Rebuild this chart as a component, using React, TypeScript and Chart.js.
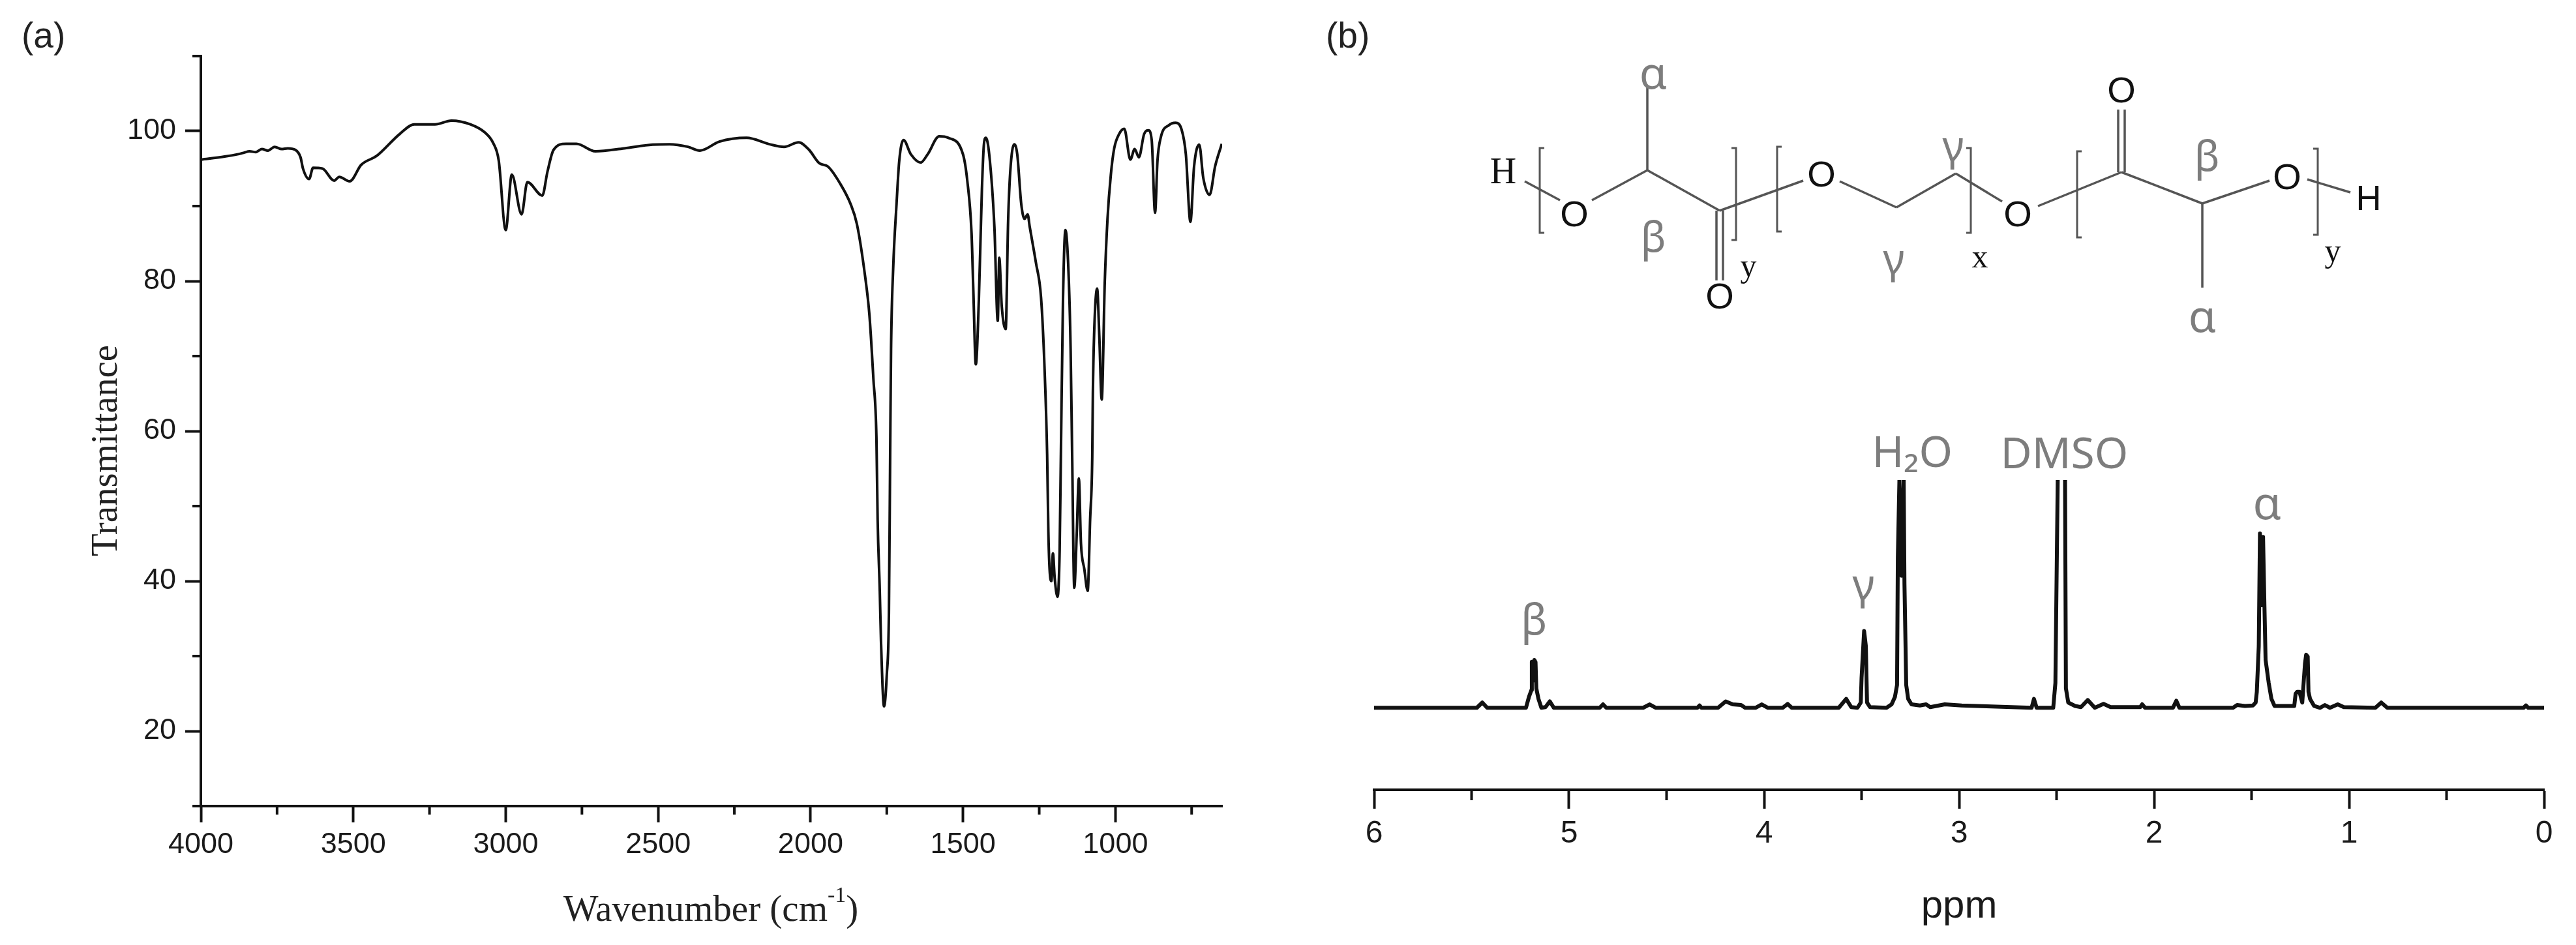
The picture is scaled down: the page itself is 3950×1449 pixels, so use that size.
import React, { useEffect, useRef } from "react";
import { Chart, registerables } from "chart.js";

Chart.register(...registerables);

const irWavenumber = [4000,3922,3880,3860,3840,3820,3800,3780,3758,3735,3715,3690,3673,3665,3645,3632,3601,3563,3546,3512,3474,3423,3348,3300,3232,3178,3116,3068,3041,3023,3000,2980,2948,2929,2880,2863,2843,2802,2768,2706,2611,2518,2463,2402,2363,2299,2210,2135,2087,2039,2005,1971,1944,1903,1869,1848,1821,1807,1794,1784,1780,1773,1769,1759,1750,1743,1739,1736,1729,1718,1709,1695,1671,1639,1616,1578,1548,1500,1486,1472,1466,1458,1448,1438,1431,1425,1414,1397,1386,1381,1373,1360,1352,1345,1332,1322,1309,1298,1288,1281,1261,1244,1233,1224,1220,1216,1210,1205,1199,1190,1183,1179,1172,1164,1154,1147,1142,1135,1127,1120,1113,1102,1091,1083,1076,1074,1070,1060,1053,1045,1035,1026,1015,1004,988,971,951,937,923,906,892,881,870,862,851,824,803,783,769,754,742,725,712,691,673,651];
const irTransmittance = [96.2,96.6,96.9,97.1,97.3,97.2,97.6,97.4,97.9,97.6,97.7,97.5,96.5,95.0,93.6,95.1,95.0,93.4,93.9,93.3,95.5,96.7,99.6,100.9,100.9,101.4,100.9,99.8,98.4,96.1,86.8,94.2,88.9,93.2,91.4,94.6,97.5,98.3,98.3,97.3,97.7,98.2,98.25,97.9,97.4,98.6,99.1,98.25,97.9,98.5,97.5,95.7,95.3,93,90.3,87.6,80.6,75.5,67,59.2,48.2,38.7,32,23.3,27.5,35.8,56.6,70.9,81.7,90.3,96.1,98.8,96.9,95.8,96.9,99.3,99.1,96.9,93.4,86.4,78.6,68.9,77.5,92.2,98.4,99.1,96.9,87.2,74.7,83.1,76.7,73.6,88,94.6,98.25,96.9,90.3,88.3,88.9,87.2,82.5,77.8,68.9,56.9,46.6,41.6,40,43.7,40.3,37.9,44.1,56.6,77.5,86.8,81.3,70.9,56.9,39.1,46.2,53.7,45,41.6,38.7,48.2,56.6,65,72.8,79,72.8,64.2,79.8,88.3,94.2,97.7,99.6,100.3,96.2,97.6,96.5,99.6,100.1,98.8,89.1,96.1,99.2,100.8,101.1,100.2,96.9,87.9,95.3,98.2,93.8,91.5,95.3,98.3];

const nmrPpm = [6,5.473,5.445,5.42,5.221,5.206,5.193,5.191,5.185,5.178,5.172,5.168,5.157,5.142,5.121,5.099,5.078,4.843,4.826,4.809,4.62,4.587,4.555,4.342,4.331,4.321,4.236,4.197,4.161,4.118,4.097,4.044,4.012,3.98,3.905,3.879,3.858,3.617,3.579,3.553,3.521,3.504,3.5,3.487,3.478,3.472,3.457,3.372,3.346,3.329,3.318,3.314,3.306,3.295,3.284,3.28,3.271,3.261,3.244,3.201,3.169,3.148,3.073,2.987,2.628,2.616,2.602,2.517,2.506,2.49,2.458,2.452,2.44,2.405,2.375,2.34,2.304,2.259,2.223,2.071,2.061,2.046,1.903,1.886,1.87,1.595,1.574,1.534,1.493,1.479,1.473,1.463,1.457,1.449,1.441,1.434,1.428,1.412,1.398,1.382,1.281,1.274,1.266,1.254,1.24,1.226,1.22,1.212,1.208,1.2,1.179,1.149,1.124,1.098,1.058,1.027,0.865,0.835,0.804,0.105,0.093,0.081,0];
const nmrIntensity = [0,0,2.3,0,0,4.7,7.8,20.2,12,21,20,8.5,3.9,0,0.3,2.8,0,0,1.5,0,0,1.5,0,0,1,0,0,2.8,1.5,1.2,0,0,1.5,0,0,1.7,0,0,3.9,0.3,0,2.3,13.2,33.7,27,2.3,0.3,0,1.5,4.7,10,66,99.8,58,99.8,54.3,10,3.9,1.5,1,1.5,0.3,1.5,1,0,3.9,0,0,10.9,130,130,8.5,2.3,0.8,0.3,3.4,0,1.7,0.3,0.3,1.5,0,0,3.1,0,0,1.2,0.8,1,2.3,7,27,76.5,45,75,45,21,10.9,3.9,0.8,0.8,6.2,7,7,2.3,19.4,23.3,22.5,7,3.9,0.8,0,1.2,0,1.5,0.3,0,2.3,0,0,1,0,0];

const irXLabels = [4000,3500,3000,2500,2000,1500,1000];
const irXMinor = [3750,3250,2750,2250,1750,1250,750];
const irYLabels = [20,40,60,80,100];
const irYMinor = [10,30,50,70,90,110];
const nmrXLabels = [6,5,4,3,2,1,0];
const nmrXMinor = [5.5,4.5,3.5,2.5,1.5,0.5];

const peakLabelText = ["β","γ","H₂O","DMSO","α"];
const peakLabelPpm = [5.18,3.49,3.24,2.46,1.42];
const peakLabelIntensity = [37.5,53,111,110.5,88.5];

const INK = "#111111";
const GREY = "#7d7d7d";

const plainTick = (v: number | string) => String(v);

const minorTicks = {
  id: "minorTicks",
  afterDraw(chart: any, _a: any, opts: any) {
    const { ctx, scales } = chart;
    ctx.save();
    ctx.strokeStyle = INK;
    ctx.lineWidth = 4;
    ctx.beginPath();
    const xs = scales.x;
    (opts.x || []).forEach((v: number) => {
      const p = xs.getPixelForValue(v);
      ctx.moveTo(p, xs.top);
      ctx.lineTo(p, xs.top + opts.xLength);
    });
    const ys = scales.y;
    (opts.y || []).forEach((v: number) => {
      const p = ys.getPixelForValue(v);
      ctx.moveTo(ys.right, p);
      ctx.lineTo(ys.right - opts.yLength, p);
    });
    ctx.stroke();
    ctx.restore();
  },
};

const peakLabels = {
  id: "peakLabels",
  afterDraw(chart: any) {
    const { ctx, scales } = chart;
    ctx.save();
    ctx.fillStyle = GREY;
    ctx.textAlign = "center";
    ctx.textBaseline = "middle";
    peakLabelText.forEach((t, i) => {
      ctx.font = `${t === "α" ? 70 : 66}px "Noto Sans"`;
      ctx.fillText(t, scales.x.getPixelForValue(peakLabelPpm[i]), scales.y.getPixelForValue(peakLabelIntensity[i]));
    });
    ctx.restore();
  },
};

const setTicks = (vals: number[]) => (s: any) => {
  s.ticks = vals.map((value) => ({ value }));
};

function makeIr(canvas: HTMLCanvasElement) {
  return new Chart(canvas, {
    type: "line",
    data: {
      datasets: [{
        data: irWavenumber.map((x, i) => ({ x, y: irTransmittance[i] })),
        borderColor: INK,
        borderWidth: 4,
        pointRadius: 0,
        cubicInterpolationMode: "monotone",
      }],
    },
    plugins: [minorTicks],
    options: {
      animation: false,
      responsive: false,
      layout: { padding: { left: 180, right: 101, top: 86, bottom: 0 }, autoPadding: false },
      plugins: {
        legend: { display: false },
        tooltip: { enabled: false },
        minorTicks: { x: irXMinor, y: irYMinor, xLength: 13, yLength: 13 },
      } as any,
      scales: {
        x: {
          type: "linear", reverse: true, min: 650, max: 4000,
          afterBuildTicks: setTicks(irXLabels),
          afterFit: (s: any) => { s.height = 1449 - 1236; },
          border: { color: INK, width: 4 },
          grid: { drawOnChartArea: false, tickLength: 25, tickWidth: 4, tickColor: INK },
          ticks: { color: "#1a1a1a", font: { family: "Liberation Sans", size: 45 }, maxRotation: 0, padding: 8, autoSkip: false, callback: plainTick },
        },
        y: {
          min: 10, max: 110,
          afterBuildTicks: setTicks(irYLabels),
          afterFit: (s: any) => { s.width = 308 - 180; },
          border: { color: INK, width: 4 },
          grid: { drawOnChartArea: false, tickLength: 24, tickWidth: 4, tickColor: INK },
          ticks: { color: "#1a1a1a", font: { family: "Liberation Sans", size: 45 }, padding: 14, callback: plainTick },
        },
      },
    } as any,
  });
}

function makeNmr(canvas: HTMLCanvasElement) {
  return new Chart(canvas, {
    type: "line",
    data: {
      datasets: [{
        data: nmrPpm.map((x, i) => ({ x, y: nmrIntensity[i] })),
        borderColor: INK,
        borderWidth: 6,
        pointRadius: 0,
        borderJoinStyle: "round",
        clip: 0,
      }],
    },
    plugins: [minorTicks, peakLabels],
    options: {
      animation: false,
      responsive: false,
      layout: { padding: { left: 132, right: 49, top: 736, bottom: 0 }, autoPadding: false },
      plugins: {
        legend: { display: false },
        tooltip: { enabled: false },
        minorTicks: { x: nmrXMinor, y: [], xLength: 16, yLength: 0 },
      } as any,
      scales: {
        x: {
          type: "linear", reverse: true, min: 0, max: 6,
          afterBuildTicks: setTicks(nmrXLabels),
          afterFit: (s: any) => { s.height = 1449 - 1211; },
          border: { color: INK, width: 4 },
          grid: { drawOnChartArea: false, tickLength: 29, tickWidth: 4, tickColor: INK },
          ticks: { color: "#1a1a1a", font: { family: "Liberation Sans", size: 48 }, padding: 10, maxRotation: 0, autoSkip: false, callback: plainTick },
          title: {
            display: true, text: "ppm", color: "#1a1a1a",
            font: { family: "Liberation Sans", size: 60 },
            padding: { top: 0, bottom: 23 },
          },
        },
        y: { display: false, min: -36, max: 100 },
      },
    } as any,
  });
}

const bonds = [
  [2338,278,2392,307],[2441,307,2526,261],[2526,261,2526,132],[2526,261,2637,323],
  [2632,323,2632,430],[2642,323,2642,430],[2637,323,2765,277],[2821,278,2908,318],
  [2908,318,2999,266],[2999,266,3070,309],[3125,316,3253,264],[3248,264,3248,168],
  [3258,264,3258,168],[3253,264,3377,312],[3377,312,3377,441],[3377,312,3480,277],[3538,275,3604,295],
];
const brackets = [
  [2361,227,357,1],[2662,227,368,-1],[2725,225,355,1],[3022,227,357,-1],[3185,232,364,1],[3554,228,360,-1],
];
const atoms = [[2414,327],[2637,453],[2793,266],[3094,327],[3253,137],[3507,270]];
const greekLabels: [string, number, number][] = [
  ["α",2535,109],["β",2535,361],["γ",2995,221],["γ",2904,394],["β",3384,237],["α",3377,482],
];
const serifLabels: [string, number, number, number][] = [
  ["H",2305,262,56],["y",2681,407,50],["x",3036,393,50],["y",3577,384,50],
];

function Overlay() {
  return (
    <svg width={3950} height={1449} style={{ position: "absolute", left: 0, top: 0 }}>
      <text x={33} y={73} fontFamily="Liberation Sans" fontSize={55} fill="#222">(a)</text>
      <text x={2033} y={73} fontFamily="Liberation Sans" fontSize={55} fill="#222">(b)</text>
      <text transform="translate(179,691) rotate(-90)" textAnchor="middle" fontFamily="Liberation Serif" fontSize={57} fill="#222">Transmittance</text>
      <text x={1090} y={1412} textAnchor="middle" fontFamily="Liberation Serif" fontSize={57} fill="#222">
        Wavenumber (cm<tspan dy={-29} fontSize={34}>-1</tspan><tspan dy={29}>)</tspan>
      </text>
      {bonds.map((b, i) => (
        <line key={i} x1={b[0]} y1={b[1]} x2={b[2]} y2={b[3]} stroke="#555" strokeWidth={3.5} />
      ))}
      {brackets.map((b, i) => (
        <path key={i} d={`M${b[0] + 7 * b[3]} ${b[1]}H${b[0]}V${b[2]}H${b[0] + 7 * b[3]}`} fill="none" stroke="#555" strokeWidth={3} />
      ))}
      {atoms.map((a, i) => (
        <text key={i} x={a[0]} y={a[1]} textAnchor="middle" dominantBaseline="central" fontFamily="Liberation Sans" fontSize={56} fill="#111">O</text>
      ))}
      {greekLabels.map((g, i) => (
        <text key={i} x={g[1]} y={g[2]} textAnchor="middle" dominantBaseline="central" fontFamily="Noto Sans" fontSize={g[0] === "α" ? 68 : 64} fill={GREY}>{g[0]}</text>
      ))}
      {serifLabels.map((s, i) => (
        <text key={i} x={s[1]} y={s[2]} textAnchor="middle" dominantBaseline="central" fontFamily="Liberation Serif" fontSize={s[3]} fill="#111">{s[0]}</text>
      ))}
      <text x={3632} y={303} textAnchor="middle" dominantBaseline="central" fontFamily="Liberation Sans" fontSize={54} fill="#111">H</text>
    </svg>
  );
}

export default function App() {
  const irRef = useRef<HTMLCanvasElement>(null);
  const nmrRef = useRef<HTMLCanvasElement>(null);
  useEffect(() => {
    const a = makeIr(irRef.current!);
    const b = makeNmr(nmrRef.current!);
    return () => { a.destroy(); b.destroy(); };
  }, []);
  return (
    <div style={{ position: "absolute", left: 0, top: 0, width: 3950, height: 1449, background: "#fff", overflow: "hidden" }}>
      <canvas ref={irRef} width={1975} height={1449} style={{ position: "absolute", left: 0, top: 0, width: 1975, height: 1449 }} />
      <canvas ref={nmrRef} width={1975} height={1449} style={{ position: "absolute", left: 1975, top: 0, width: 1975, height: 1449 }} />
      <Overlay />
    </div>
  );
}
